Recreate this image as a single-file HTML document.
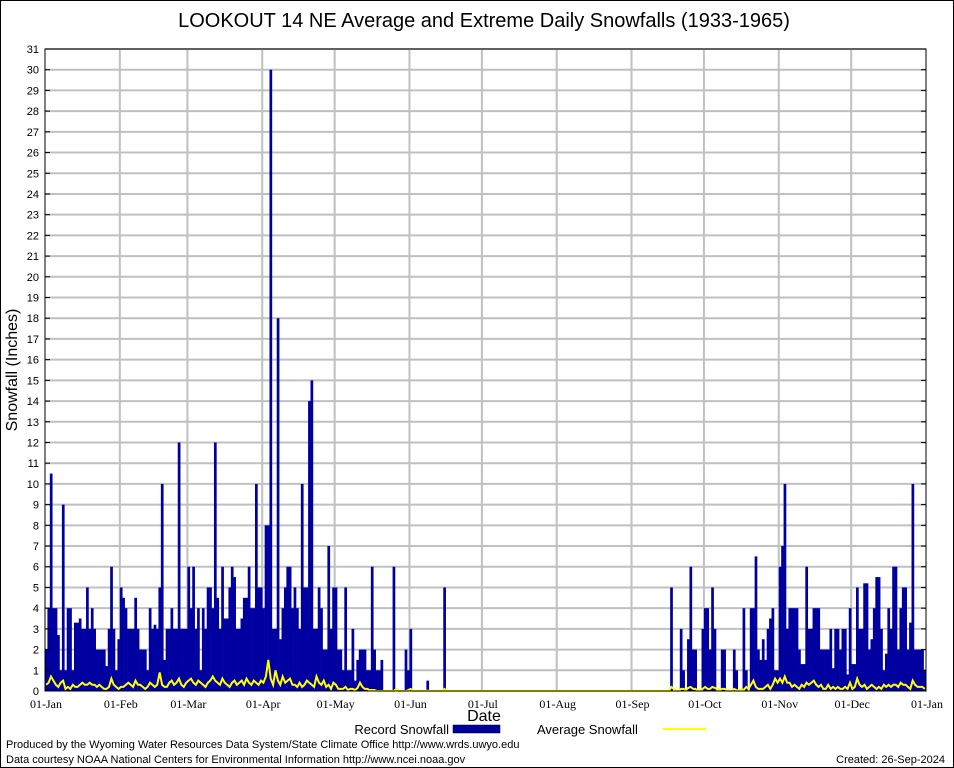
<!DOCTYPE html>
<html><head><meta charset="utf-8"><style>
html,body{margin:0;padding:0;background:#fff;}
svg{display:block;font-family:"Liberation Sans",sans-serif;}
</style></head><body>
<svg id="chart" width="954" height="768" viewBox="0 0 954 768" xmlns="http://www.w3.org/2000/svg">
<rect x="0.5" y="0.5" width="953" height="767" fill="#fff" stroke="#000"/>
<text x="484" y="27" text-anchor="middle" font-size="20">LOOKOUT 14 NE Average and Extreme Daily Snowfalls (1933-1965)</text>
<g id="grid"></g>
<g id="bars"></g>
<g id="avg"></g>
<g id="axes"></g>
<text transform="translate(17,370) rotate(-90)" text-anchor="middle" font-size="16">Snowfall (Inches)</text>
<text x="484" y="721" text-anchor="middle" font-size="16">Date</text>
<g>
<text x="449" y="734" text-anchor="end" font-size="13">Record Snowfall</text>
<rect x="453" y="725" width="47" height="8" fill="#0000a0" stroke="#000" stroke-width="0.5"/>
<text x="537" y="734" font-size="13">Average Snowfall</text>
<line x1="663" y1="729" x2="706" y2="729" stroke="#ffff00" stroke-width="2"/>
</g>
<text x="6" y="748" font-size="11">Produced by the Wyoming Water Resources Data System/State Climate Office http://www.wrds.uwyo.edu</text>
<text x="6" y="763" font-size="11">Data courtesy NOAA National Centers for Environmental Information http://www.ncei.noaa.gov</text>
<text x="945" y="763" text-anchor="end" font-size="11">Created: 26-Sep-2024</text>
</svg>
<script>
function zeros(n){var a=[];for(var i=0;i<n;i++)a.push(0);return a;}
var monthLabels=["01-Jan","01-Feb","01-Mar","01-Apr","01-May","01-Jun","01-Jul","01-Aug","01-Sep","01-Oct","01-Nov","01-Dec","01-Jan"];
var monthStartDays=[0,31,59,90,120,151,181,212,243,273,304,334,365];
var yTicks=[0,1,2,3,4,5,6,7,8,9,10,11,12,13,14,15,16,17,18,19,20,21,22,23,24,25,26,27,28,29,30,31];
var recJan=[2,4,10.5,4,4,2.7,1,9,1,4,4,1,3.3,3.3,3.5,3,3,5,3,4,3,2,2,2,2,1.2,3,6,3,1,2.5];
var recFeb=[5,4.5,4,3,3,3,4.5,3,2,2,2,1,4,3,3.2,3,5,10,1.5,3,3,4,3,3,12,3,3,3];
var recMar=[6,4,6,3,4,1,4,3,5,5,4,12,4.5,3,6,3.5,3.5,5,6,5.5,3,3,3.5,4.5,4.5,6,4,4,10,5,5];
var recApr=[4,8,8,30,3,3,18,2.5,4,5,6,6,4,5,4,3,10,5,5,14,15,3,3,5,4,2,2,7,3,5];
var recMay=[5,2,2,1,5,1,1,3,0.5,1.5,2,2,2,1,1,6,2,1,1,1.5,0,0,0,0,6,0,0,0,0,2,1];
var recJun=[3,0,0,0,0,0,0,0.5,0,0,0,0,0,0,5].concat(zeros(15));
var recJul=zeros(31);
var recAug=zeros(31);
var recSep=zeros(16).concat([5,0,0,0,3,1,0,2.5,6,2,2,0,0,3]);
var recOct=[4,4,2,5,3,0,0,2,2,0,0,0,2,1,0,0,4,1,0,4,4,6.5,2,1.5,2.5,1.5,3,3.5,4,1,1];
var recNov=[6,7,10,3,4,4,4,4,2,1.3,1.3,6,3,3,4,4,4,2,2,2,2,3,1.1,3,3,2,3,3,0.8,4];
var recDec=[1.3,1.3,5,3,3,5.2,5.2,2,2.5,4,5.5,5.5,3,1,1.8,4,3,6,6,2,4,5,5,2,3.3,10,2,2,2,2,1];
var avgJan=[0.3,0.4,0.7,0.5,0.3,0.2,0.4,0.5,0.1,0.2,0.1,0.3,0.2,0.2,0.3,0.4,0.3,0.3,0.4,0.3,0.3,0.2,0.3,0.2,0.1,0.1,0.2,0.6,0.3,0.2,0.1];
var avgFeb=[0.2,0.2,0.3,0.4,0.3,0.2,0.5,0.3,0.3,0.2,0.1,0.2,0.4,0.3,0.2,0.3,0.9,0.3,0.2,0.2,0.4,0.5,0.3,0.4,0.6,0.3,0.2,0.4];
var avgMar=[0.5,0.6,0.4,0.3,0.5,0.4,0.3,0.2,0.4,0.5,0.7,0.5,0.4,0.3,0.6,0.4,0.3,0.2,0.4,0.5,0.3,0.4,0.5,0.3,0.6,0.4,0.3,0.5,0.4,0.3,0.5];
var avgApr=[0.4,0.7,1.5,0.6,0.3,1.0,0.5,0.3,0.7,0.4,0.5,0.6,0.3,0.3,0.2,0.4,0.2,0.3,0.5,0.4,0.3,0.2,0.7,0.4,0.3,0.5,0.2,0.3,0.1,0.4];
var avgMay=[0.3,0.1,0.1,0.1,0.2,0.05,0.1,0.1,0.05,0.15,0.4,0.2,0.1,0.1,0.05,0.05,0.05,0,0,0,0,0,0,0,0,0.1,0,0,0,0,0.05];
var avgJun=[0.1,0,0,0,0,0,0,0.02,0,0,0,0,0,0,0.1].concat(zeros(15));
var avgJul=zeros(31);
var avgAug=zeros(31);
var avgSep=zeros(16).concat([0.2,0.1,0,0,0.1,0.1,0.05,0.15,0.2,0.1,0.1,0,0,0.1]);
var avgOct=[0.2,0.1,0.1,0.2,0.15,0.1,0.05,0.1,0.1,0.05,0,0,0.1,0.05,0,0.1,0.05,0.2,0.1,0.3,0.5,0.2,0.1,0.1,0.1,0.2,0.3,0.1,0.3,0.6,0.4];
var avgNov=[0.6,0.4,0.7,0.4,0.4,0.2,0.3,0.2,0.1,0.3,0.2,0.4,0.3,0.4,0.5,0.3,0.2,0.3,0.1,0.1,0.3,0.1,0.2,0.1,0.2,0.1,0.1,0.2,0.1,0.4];
var avgDec=[0.1,0.2,0.6,0.3,0.2,0.3,0.1,0.2,0.3,0.2,0.1,0.2,0.1,0.3,0.2,0.3,0.2,0.3,0.3,0.2,0.4,0.3,0.3,0.2,0.1,0.5,0.3,0.2,0.2,0.2,0.1];

var record=[].concat(recJan,recFeb,recMar,recApr,recMay,recJun,recJul,recAug,recSep,recOct,recNov,recDec);
var average=[].concat(avgJan,avgFeb,avgMar,avgApr,avgMay,avgJun,avgJul,avgAug,avgSep,avgOct,avgNov,avgDec);

var NS="http://www.w3.org/2000/svg";
var L=45,R=926,T=49,B=691,YMAX=31,NDAYS=365;
function xs(d){return L+d*(R-L)/NDAYS;}
function ys(v){return B-v*(B-T)/YMAX;}
function mk(tag,attrs,parent){var e=document.createElementNS(NS,tag);for(var k in attrs)e.setAttribute(k,attrs[k]);parent.appendChild(e);return e;}
var grid=document.getElementById('grid'),bars=document.getElementById('bars'),avg=document.getElementById('avg'),axes=document.getElementById('axes');

yTicks.forEach(function(v){
  var y=ys(v);
  if(v>0){var g=mk('line',{x1:L,x2:R,y1:y,y2:y,stroke:'#c0c0c0','stroke-width':2},grid);
  
  }
  var t=mk('text',{x:L-6,y:y+4,'text-anchor':'end','font-size':11},axes);
  t.textContent=v;
  
  
  var tk=mk('line',{x1:L,x2:L+5,y1:y,y2:y,stroke:'#000'},axes);
  
  
  var tk2=mk('line',{x1:R-5,x2:R,y1:y,y2:y,stroke:'#000'},axes);
  
  
});
monthStartDays.forEach(function(d,i){
  var x=xs(d);
  if(i>0&&i<monthStartDays.length-1){var g=mk('line',{x1:x,x2:x,y1:T,y2:B,stroke:'#c0c0c0','stroke-width':2},grid);
  
  }
  var t=mk('text',{x:x+1,y:708,'text-anchor':'middle','font-size':12,'font-family':'Liberation Serif, serif'},axes);
  t.textContent=monthLabels[i];
  
  
});
var bw=(R-L)/NDAYS;
record.forEach(function(v,d){
  if(v<=0)return;
  var r=mk('rect',{x:xs(d),y:ys(v),width:bw+0.3,height:B-ys(v),fill:'#0000a0'},bars);
  
  
});
var pts=average.map(function(v,d){return (xs(d)+bw/2).toFixed(1)+','+ys(v).toFixed(1);}).join(' ');
var pl=mk('polyline',{points:pts,fill:'none',stroke:'#ffff00','stroke-width':2},avg);


var frame=mk('rect',{x:L,y:T,width:R-L,height:B-T,fill:'none',stroke:'#000','stroke-width':1},axes);


</script>
</body></html>
